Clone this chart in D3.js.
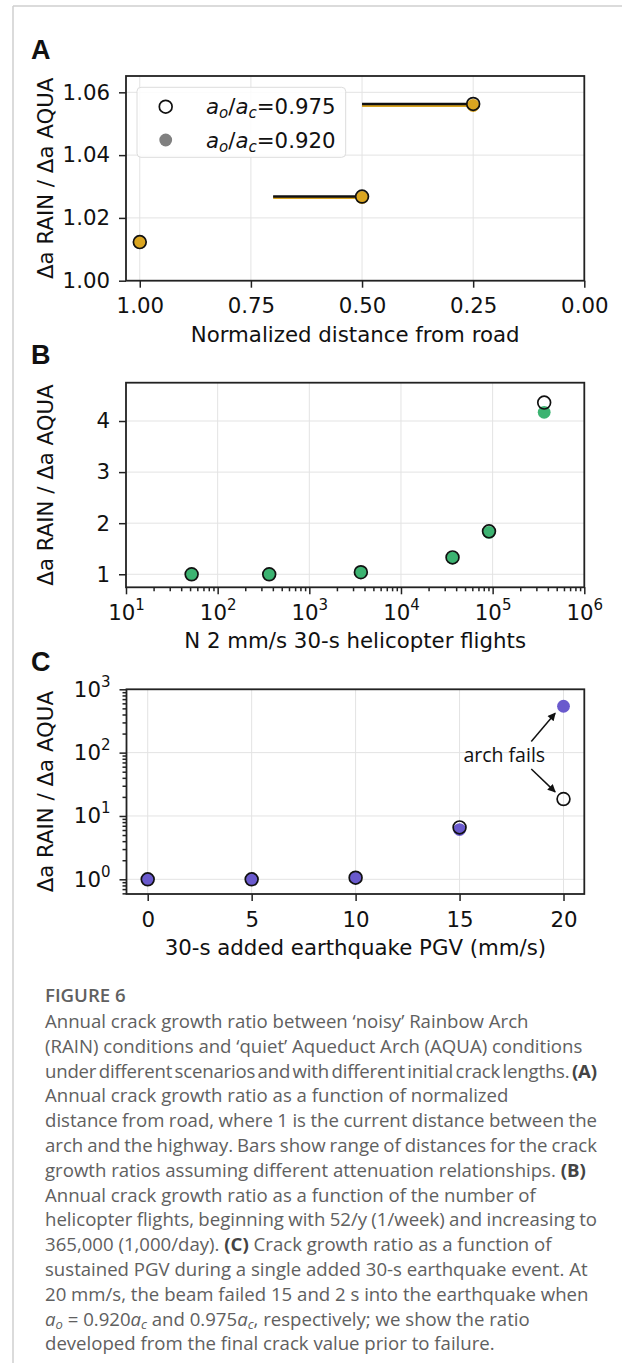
<!DOCTYPE html>
<html>
<head>
<meta charset="utf-8" />
<script src="https://cdn.jsdelivr.net/npm/d3@7"></script>
<style>
  body { margin: 0; background: #fff; }
  svg { display: block; }
  .tick text { font-family: "DejaVu Sans"; font-size: 21.3px; fill: #111; }
  .tick line { stroke: #222; stroke-width: 1.5; }
  .grid line { stroke: #e3e3e3; stroke-width: 1; }
  .frame { fill: none; stroke: #222; stroke-width: 1.8; }
  .axlabel { font-family: "DejaVu Sans"; font-size: 21.3px; fill: #111; }
  .panel { font-family: "Liberation Sans"; font-weight: bold; font-size: 27px; fill: #111; }
  .caption { font-family: "Open Sans"; font-size: 18.6px; fill: #606060; }
</style>
</head>
<body>
<svg width="622" height="1363"></svg>
<script>
// ---- data ----
// panel A
var distA = [1.00, 0.50, 0.25];
var ratioA975 = [1.0123, 1.0268, 1.0563];
var ratioA920 = [1.0122, 1.0265, 1.0558];
var rangeFromA = [1.00, 0.70, 0.50];
var rangeToA = [1.00, 0.50, 0.25];
var ticksAx = [1.00, 0.75, 0.50, 0.25, 0.00];
var ticksAy = [1.00, 1.02, 1.04, 1.06];
// panel B
var flightsB = [52, 365, 3650, 36500, 91250, 365000];
var ratioB975 = [1.00, 1.00, 1.04, 1.33, 1.84, 4.36];
var ratioB920 = [1.00, 1.00, 1.04, 1.32, 1.82, 4.17];
var ticksBx = [1e1, 1e2, 1e3, 1e4, 1e5, 1e6];
var ticksBy = [1, 2, 3, 4];
// panel C
var pgvC = [0, 5, 10, 15, 20];
var ratioC975 = [1.0, 1.0, 1.06, 6.6, 18.5];
var ratioC920 = [1.0, 1.0, 1.06, 6.1, 540];
var ticksCx = [0, 5, 10, 15, 20];
var ticksCy = [1, 10, 100, 1000];
var legendLabels = ["0.975", "0.920"];
var ylab = "\u0394a RAIN / \u0394a AQUA";

var svg = d3.select("svg");

// page border
svg.append("line").attr("x1", 13).attr("x2", 13).attr("y1", 6).attr("y2", 1363)
  .attr("stroke", "#cfcfcf").attr("stroke-width", 1.5);
svg.append("line").attr("x1", 13).attr("x2", 622).attr("y1", 6).attr("y2", 6)
  .attr("stroke", "#cfcfcf").attr("stroke-width", 1.5);

var defs = svg.append("defs");
defs.append("marker").attr("id", "arr").attr("viewBox", "0 0 10 10")
  .attr("refX", 9).attr("refY", 5).attr("markerWidth", 9).attr("markerHeight", 8)
  .attr("markerUnits", "userSpaceOnUse").attr("orient", "auto")
  .append("path").attr("d", "M0,0 L10,5 L0,10 z").attr("fill", "#111");

var R = 6.4;

function minorTicks(lo, hi) {
  var out = [];
  for (var e = lo; e < hi; e++)
    for (var m = 2; m <= 9; m++) out.push(m * Math.pow(10, e));
  return out;
}

function supLabels(sel) {
  sel.selectAll(".tick text").each(function(d) {
    var t = d3.select(this);
    t.text("10");
    t.append("tspan").attr("dy", -10).attr("font-size", 15).text(Math.round(Math.log10(d)));
  });
}

function panel(p) {
  var g = svg.append("g");
  var L = p.left, Rt = p.right, T = p.top, B = p.bottom;

  // grid
  var grid = g.append("g").attr("class", "grid");
  grid.selectAll(".gx").data(p.xticks.filter(function(v){ var px = p.x(v); return px > L + 1 && px < Rt - 1; }))
    .enter().append("line")
    .attr("x1", function(d){ return p.x(d); }).attr("x2", function(d){ return p.x(d); })
    .attr("y1", T).attr("y2", B);
  grid.selectAll(".gy").data(p.yticks).enter().append("line")
    .attr("x1", L).attr("x2", Rt)
    .attr("y1", function(d){ return p.y(d); }).attr("y2", function(d){ return p.y(d); });

  // axes
  var xa = g.append("g").attr("transform", "translate(0," + B + ")")
    .call(d3.axisBottom(p.x).tickValues(p.xticks).tickSize(7).tickPadding(10.5).tickFormat(p.xfmt || null));
  xa.select(".domain").remove();
  if (p.xsup) supLabels(xa);
  if (p.xminor) {
    var xm = g.append("g").attr("transform", "translate(0," + B + ")")
      .call(d3.axisBottom(p.x).tickValues(p.xminor).tickSize(4).tickFormat(""));
    xm.select(".domain").remove();
    xm.selectAll(".tick line").attr("stroke-width", 1.1);
  }
  var ya = g.append("g").attr("transform", "translate(" + L + ",0)")
    .call(d3.axisLeft(p.y).tickValues(p.yticks).tickSize(7).tickPadding(9).tickFormat(p.yfmt || null));
  ya.select(".domain").remove();
  if (p.ysup) supLabels(ya);
  if (p.yminor) {
    var ym = g.append("g").attr("transform", "translate(" + L + ",0)")
      .call(d3.axisLeft(p.y).tickValues(p.yminor).tickSize(4).tickFormat(""));
    ym.select(".domain").remove();
    ym.selectAll(".tick line").attr("stroke-width", 1.1);
  }

  // frame
  g.append("rect").attr("class", "frame").attr("x", L).attr("y", T)
    .attr("width", Rt - L).attr("height", B - T);

  // labels
  g.append("text").attr("class", "axlabel").attr("x", (L + Rt) / 2).attr("y", B + 61)
    .attr("text-anchor", "middle").text(p.xlabel);
  g.append("text").attr("class", "axlabel").attr("text-anchor", "middle")
    .attr("transform", "translate(52.5," + (T + B) / 2 + ") rotate(-90)").text(ylab);
  g.append("text").attr("class", "panel").attr("x", 31).attr("y", p.labelY).text(p.name);
  return g;
}

// ---------- Panel A ----------
var xA = d3.scaleLinear().domain([1.031, 0]).range([126, 584.3]);
var yA = d3.scaleLinear().domain([1.0, 1.0652]).range([280.7, 76]);
var gA = panel({ name: "A", labelY: 59, left: 126, right: 584.3, top: 76, bottom: 280.7,
  x: xA, y: yA, xticks: ticksAx, yticks: ticksAy,
  xfmt: d3.format(".2f"), yfmt: d3.format(".2f"),
  xlabel: "Normalized distance from road" });

var barIdx = d3.range(distA.length).filter(function(i){ return rangeFromA[i] !== rangeToA[i]; });
gA.selectAll(".bar920").data(barIdx).enter().append("line")
  .attr("x1", function(i){ return xA(rangeFromA[i]); }).attr("x2", function(i){ return xA(rangeToA[i]); })
  .attr("y1", function(i){ return yA(ratioA920[i]); }).attr("y2", function(i){ return yA(ratioA920[i]); })
  .attr("stroke", "#DAA520").attr("stroke-width", 3);
gA.selectAll(".bar975").data(barIdx).enter().append("line")
  .attr("x1", function(i){ return xA(rangeFromA[i]); }).attr("x2", function(i){ return xA(rangeToA[i]); })
  .attr("y1", function(i){ return yA(ratioA975[i]); }).attr("y2", function(i){ return yA(ratioA975[i]); })
  .attr("stroke", "#111").attr("stroke-width", 2.5);
gA.selectAll(".p920").data(distA).enter().append("circle")
  .attr("cx", function(d){ return xA(d); }).attr("cy", function(d, i){ return yA(ratioA920[i]); })
  .attr("r", R).attr("fill", "#DAA520");
gA.selectAll(".p975").data(distA).enter().append("circle")
  .attr("cx", function(d){ return xA(d); }).attr("cy", function(d, i){ return yA(ratioA975[i]); })
  .attr("r", R).attr("fill", "none").attr("stroke", "#111").attr("stroke-width", 1.7);

// legend
var lg = gA.append("g");
lg.append("rect").attr("x", 137).attr("y", 87.3).attr("width", 208.7).attr("height", 70)
  .attr("rx", 4).attr("fill", "#fff").attr("fill-opacity", 0.85)
  .attr("stroke", "#dcdcdc").attr("stroke-width", 1);
legendLabels.forEach(function(lab, i) {
  var cy = 106.7 + i * 33.3;
  lg.append("circle").attr("cx", 165.7).attr("cy", cy).attr("r", R)
    .attr("fill", i === 0 ? "none" : "#808080").attr("stroke", i === 0 ? "#111" : "none")
    .attr("stroke-width", 1.7);
  var t = lg.append("text").attr("class", "axlabel").attr("x", 206).attr("y", cy + 7.5);
  t.append("tspan").attr("font-style", "italic").text("a");
  t.append("tspan").attr("font-style", "italic").attr("font-size", 15).attr("dy", 4).text("o");
  t.append("tspan").attr("dy", -4).text("/");
  t.append("tspan").attr("font-style", "italic").text("a");
  t.append("tspan").attr("font-style", "italic").attr("font-size", 15).attr("dy", 4).text("c");
  t.append("tspan").attr("dy", -4).text("=" + lab);
});

// ---------- Panel B ----------
var xB = d3.scaleLog().domain([10, 1e6]).range([126, 584.3]);
var yB = d3.scaleLinear().domain([0.745, 4.75]).range([587.3, 382.7]);
var gB = panel({ name: "B", labelY: 364, left: 126, right: 584.3, top: 382.7, bottom: 587.3,
  x: xB, y: yB, xticks: ticksBx, yticks: ticksBy, xsup: true, xminor: minorTicks(1, 6),
  yfmt: d3.format("d"),
  xlabel: "N 2 mm/s 30-s helicopter flights" });
gB.selectAll(".p920").data(flightsB).enter().append("circle")
  .attr("cx", function(d){ return xB(d); }).attr("cy", function(d, i){ return yB(ratioB920[i]); })
  .attr("r", R).attr("fill", "#3CB371");
gB.selectAll(".p975").data(flightsB).enter().append("circle")
  .attr("cx", function(d){ return xB(d); }).attr("cy", function(d, i){ return yB(ratioB975[i]); })
  .attr("r", R).attr("fill", "none").attr("stroke", "#111").attr("stroke-width", 1.7);

// ---------- Panel C ----------
var xC = d3.scaleLinear().domain([-1.02, 21.0]).range([126.5, 584.3]);
var yC = d3.scaleLog().domain([0.586, 1000]).range([894, 689.3]);
var cMinor = minorTicks(-1, 3).filter(function(v){ return v >= 0.586; });
var gC = panel({ name: "C", labelY: 671, left: 126.5, right: 584.3, top: 689.3, bottom: 894,
  x: xC, y: yC, xticks: ticksCx, yticks: ticksCy, ysup: true, yminor: cMinor,
  xfmt: d3.format("d"),
  xlabel: "30-s added earthquake PGV (mm/s)" });
gC.selectAll(".p920").data(pgvC).enter().append("circle")
  .attr("cx", function(d){ return xC(d); }).attr("cy", function(d, i){ return yC(ratioC920[i]); })
  .attr("r", R).attr("fill", "#6A5ACD");
gC.selectAll(".p975").data(pgvC).enter().append("circle")
  .attr("cx", function(d){ return xC(d); }).attr("cy", function(d, i){ return yC(ratioC975[i]); })
  .attr("r", R).attr("fill", "none").attr("stroke", "#111").attr("stroke-width", 1.7);

// annotation
var annoText = { x: 17.15, y: 72, text: "arch fails" };
var annoFrom = [[18.45, 150], [18.45, 55]];
var annoTo = [[19.6, 420], [19.6, 24]];
gC.append("text").attr("x", xC(annoText.x)).attr("y", yC(annoText.y))
  .attr("text-anchor", "middle").attr("font-family", "Open Sans").attr("font-size", 19.5)
  .attr("fill", "#111").text(annoText.text);
gC.selectAll(".arrow").data(annoFrom).enter().append("line")
  .attr("x1", function(d){ return xC(d[0]); }).attr("y1", function(d){ return yC(d[1]); })
  .attr("x2", function(d, i){ return xC(annoTo[i][0]); }).attr("y2", function(d, i){ return yC(annoTo[i][1]); })
  .attr("stroke", "#111").attr("stroke-width", 1.5).attr("marker-end", "url(#arr)");

// ---------- caption ----------
var capTitle = "FIGURE 6";
var capLines = [
  [["Annual crack growth ratio between \u2018noisy\u2019 Rainbow Arch", ""]],
  [["(RAIN) conditions and \u2018quiet\u2019 Aqueduct Arch (AQUA) conditions", ""]],
  [["under different scenarios and with different initial crack lengths. ", ""], ["(A)", "b"]],
  [["Annual crack growth ratio as a function of normalized", ""]],
  [["distance from road, where 1 is the current distance between the", ""]],
  [["arch and the highway. Bars show range of distances for the crack", ""]],
  [["growth ratios assuming different attenuation relationships. ", ""], ["(B)", "b"]],
  [["Annual crack growth ratio as a function of the number of", ""]],
  [["helicopter flights, beginning with 52/y (1/week) and increasing to", ""]],
  [["365,000 (1,000/day). ", ""], ["(C)", "b"], [" Crack growth ratio as a function of", ""]],
  [["sustained PGV during a single added 30-s earthquake event. At", ""]],
  [["20 mm/s, the beam failed 15 and 2 s into the earthquake when", ""]],
  [["a", "i"], ["o", "s"], [" = 0.920", ""], ["a", "i"], ["c", "s"], [" and 0.975", ""], ["a", "i"], ["c", "s"], [", respectively; we show the ratio", ""]],
  [["developed from the final crack value prior to failure.", ""]]
];
var capMaxWidth = 552;

svg.append("text").attr("class", "caption").attr("x", 45).attr("y", 1002)
  .attr("font-size", 20.5).attr("font-weight", 600).text(capTitle);
capLines.forEach(function(segs, li) {
  var t = svg.append("text").attr("class", "caption").attr("x", 45).attr("y", 1028 + li * 24.8);
  var shift = 0;
  segs.forEach(function(s) {
    var ts = t.append("tspan").text(s[0]);
    if (s[1] === "b") ts.attr("font-weight", 700).attr("fill", "#444");
    if (s[1] === "i") ts.attr("font-style", "italic");
    if (s[1] === "s") { ts.attr("font-style", "italic").attr("font-size", 13).attr("dy", 3 - shift); shift = 3; }
    else if (shift) { ts.attr("dy", -shift); shift = 0; }
  });
  // squeeze lines that overrun, as the typeset original does
  var w = t.node().getComputedTextLength();
  if (w > capMaxWidth) {
    var str = segs.map(function(s){ return s[0]; }).join("");
    var spaces = str.split(" ").length - 1;
    var over = w - capMaxWidth;
    var ws = Math.max(-over / spaces, -2.2);
    var ls = -(over + ws * spaces) / (str.length - 1);
    t.attr("word-spacing", ws).attr("letter-spacing", ls);
  }
});
</script>
</body>
</html>
